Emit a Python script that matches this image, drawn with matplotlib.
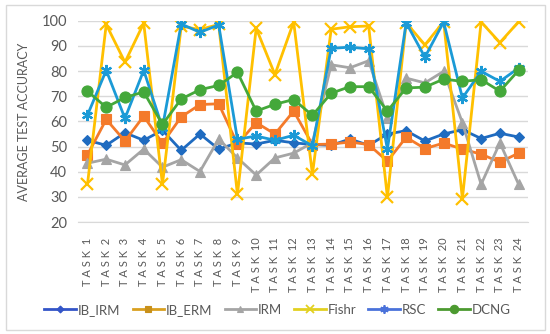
import matplotlib.pyplot as plt
from matplotlib.lines import Line2D

plt.rcParams['font.family'] = ['Lato', 'DejaVu Sans']

tasks = ["T A S K  %d" % i for i in range(1, 25)]

ib_irm = [52.5, 50.5, 55.5, 52.5, 56.5, 48.5, 55, 49, 51.5, 51, 52.5, 51.5,
          50.8, 50.5, 53, 50.5, 55, 56.3, 52.2, 55, 56.7, 53.2, 55.3, 53.8]
ib_erm = [46.7, 60.8, 52.2, 62.1, 51.3, 61.8, 66.7, 67, 51, 59.5, 55, 64.1,
          50.8, 51, 51.8, 50.8, 44.2, 53.7, 49.2, 51.4, 49, 47, 43.8, 47.4]
irm = [43.4, 45, 42.7, 49, 41.8, 44.8, 40.1, 53, 45.5, 38.7, 45.5, 47.4,
       51.5, 82.5, 81.3, 84.1, 61.5, 77.2, 75.3, 79.9, 59.5, 35, 51.5, 35]
fishr = [35, 98.5, 83.5, 99, 35, 97.8, 96.5, 98.5, 31, 97, 78.6, 99.5,
         39, 96.6, 97.6, 97.9, 29.8, 99.2, 90.4, 99.6, 29.3, 99.5, 91.3, 99.6]
rsc = [62.5, 80.3, 61.2, 80.3, 57.5, 98.7, 95.4, 98.3, 52.9, 54.2, 52.5, 54.5,
       50.3, 89, 89.5, 88.8, 49, 99.2, 85.5, 99.5, 69.3, 79.9, 75.9, 81.2]
dcng = [72, 65.6, 69.5, 71.7, 58.8, 68.9, 72.6, 74.3, 79.5, 64.1, 66.8, 68.7,
        62.4, 71.2, 73.8, 73.8, 64.1, 73.3, 73.6, 76.8, 75.9, 76.6, 72, 80.3]

names = ["IB_IRM", "IB_ERM", "IRM", "Fishr", "RSC", "DCNG"]
series = [ib_irm, ib_erm, irm, fishr, rsc, dcng]
colors = ["#1F6BC0", "#F47A2A", "#A5A5A5", "#FFC000", "#1B9AD6", "#44A83A"]
markers = ["D", "s", "^", "x", (6, 2, 0), "o"]
msizes = [5.5, 7, 7, 8, 8, 8]
legend_colors = ["#3355C8", "#D9A020", "#A5A5A5", "#E2D020", "#4A72DA", "#4C9A30"]
legend_mcolors = ["#3355C8", "#C8901A", "#A5A5A5", "#E2D020", "#4A72DA", "#4C9A30"]

fig = plt.figure(figsize=(5.5, 3.34), dpi=100)
ax = fig.add_axes([0.142, 0.335, 0.818, 0.603])

x = list(range(len(tasks)))
for i, (name, ys) in enumerate(zip(names, series)):
    mew = 1.6 if markers[i] in ("x", (6, 2, 0)) else 0.8
    ax.plot(x, ys, color=colors[i], lw=2.0, marker=markers[i], ms=msizes[i],
            mec=colors[i], mfc=colors[i], mew=mew, zorder=3 + i, label=name)

ax.set_ylim(20, 100)
ax.set_xlim(-0.5, len(tasks) - 0.5)
ax.set_yticks(range(20, 101, 10))
ax.set_xticks(x)
ax.set_xticklabels(tasks, rotation=90, fontsize=8, color="#595959")
ax.tick_params(axis="y", labelsize=10.5, colors="#595959", length=0, pad=8)
ax.tick_params(axis="x", length=0, pad=11)
ax.grid(axis="y", color="#D9D9D9", lw=1.0)
ax.set_axisbelow(True)
for s in ["top", "right", "left"]:
    ax.spines[s].set_visible(False)
ax.spines["bottom"].set_color("#D9D9D9")
ax.set_ylabel("AVERAGE TEST ACCURACY", fontsize=9, color="#595959", labelpad=8)

handles = [Line2D([0], [0], color=legend_colors[i], lw=2.0, marker=markers[i],
                  ms=msizes[i] - 2, mfc=legend_mcolors[i], mec=legend_mcolors[i],
                  mew=1.3 if markers[i] in ("x", (6, 2, 0)) else 0.8)
           for i in range(len(names))]
fig.legend(handles, names, loc="center", bbox_to_anchor=(0.505, 0.072), ncol=6,
           frameon=False, fontsize=9.5, handlelength=2.4, handletextpad=0.15,
           columnspacing=0.9, labelcolor="#595959")

fig.add_artist(plt.Rectangle((0.011, 0.012), 0.979, 0.972, transform=fig.transFigure,
                             fill=False, ec="#D9D9D9", lw=1.0))

fig.savefig("out.png", dpi=100)
